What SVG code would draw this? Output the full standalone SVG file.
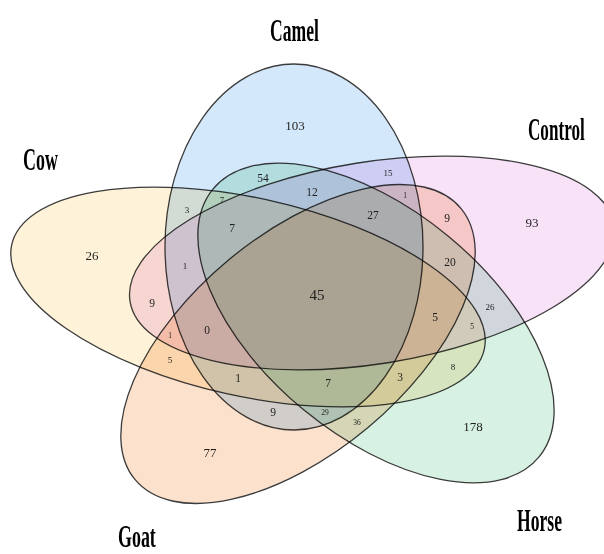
<svg xmlns="http://www.w3.org/2000/svg" width="604" height="554" viewBox="0 0 604 554">
  <style>
    .set { stroke: #3c3c3c; stroke-width: 1.3; mix-blend-mode: multiply; }
    .title { font-family: "Liberation Serif", "Times New Roman", serif; font-weight: bold; font-size: 32px; fill: #000; }
    .n { font-family: "Liberation Serif", "DejaVu Serif", serif; fill: #1e1e1e; text-anchor: middle; }
    .xl { font-size: 15px; }
    .lg { font-size: 13px; }
    .md { font-size: 11.5px; }
    .sm { font-size: 9px; }
    .xs { font-size: 7.5px; }
  </style>
  <rect width="604" height="554" fill="#ffffff"/>
  <g id="camel">
    <ellipse class="set" cx="294" cy="247" rx="129" ry="183" fill="#d4e8fb"/>
  </g>
  <g id="control">
    <ellipse class="set" cx="372" cy="263" rx="245" ry="101" transform="rotate(-9 372 263)" fill="#f8e2f8"/>
  </g>
  <g id="cow">
    <ellipse class="set" cx="248" cy="297" rx="242" ry="99" transform="rotate(12.5 248 297)" fill="#fef2d8"/>
  </g>
  <g id="goat">
    <ellipse class="set" cx="298" cy="344" rx="212" ry="109" transform="rotate(-39.8 298 344)" fill="#fce2cd"/>
  </g>
  <g id="horse">
    <ellipse class="set" cx="376" cy="323" rx="211" ry="113" transform="rotate(39.4 376 323)" fill="#d7f2e3"/>
  </g>
  <g id="titles">
    <text class="title" transform="translate(270 41) scale(0.55 1)">Camel</text>
    <text class="title" transform="translate(528 140) scale(0.535 1)">Control</text>
    <text class="title" transform="translate(23 170) scale(0.56 1)">Cow</text>
    <text class="title" transform="translate(118 547) scale(0.56 1)">Goat</text>
    <text class="title" transform="translate(517 531) scale(0.55 1)">Horse</text>
  </g>
  <g id="counts">
    <text class="n lg" x="295" y="130">103</text>
    <text class="n lg" x="532" y="227">93</text>
    <text class="n lg" x="92" y="260">26</text>
    <text class="n lg" x="210" y="457">77</text>
    <text class="n lg" x="473" y="431">178</text>
    <text class="n xl" x="317" y="300">45</text>
    <text class="n md" x="263" y="182">54</text>
    <text class="n sm" x="388" y="176">15</text>
    <text class="n md" x="312" y="196">12</text>
    <text class="n xs" x="405" y="198">1</text>
    <text class="n md" x="373" y="219">27</text>
    <text class="n sm" x="187" y="213">3</text>
    <text class="n sm" x="222" y="203">7</text>
    <text class="n md" x="232" y="232">7</text>
    <text class="n sm" x="185" y="269">1</text>
    <text class="n md" x="152" y="307">9</text>
    <text class="n md" x="207" y="334">0</text>
    <text class="n xs" x="170" y="338">1</text>
    <text class="n sm" x="170" y="363">5</text>
    <text class="n md" x="447" y="222">9</text>
    <text class="n md" x="450" y="266">20</text>
    <text class="n sm" x="490" y="310">26</text>
    <text class="n md" x="435" y="321">5</text>
    <text class="n xs" x="472" y="329">5</text>
    <text class="n sm" x="453" y="370">8</text>
    <text class="n md" x="400" y="381">3</text>
    <text class="n md" x="328" y="387">7</text>
    <text class="n md" x="238" y="382">1</text>
    <text class="n md" x="273" y="416">9</text>
    <text class="n xs" x="325" y="415">29</text>
    <text class="n xs" x="357" y="425">36</text>
  </g>
</svg>
